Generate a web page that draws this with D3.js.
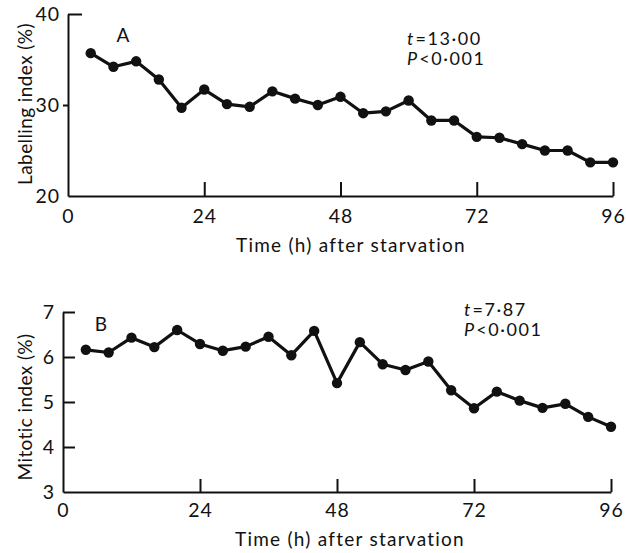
<!DOCTYPE html>
<html>
<head>
<meta charset="utf-8">
<script src="https://cdn.jsdelivr.net/npm/d3@7"></script>
<style>
  html, body { margin: 0; padding: 0; background: #fff; }
  svg { display: block; }
  text { font-family: Lato, "Open Sans", sans-serif; fill: #111; }
</style>
</head>
<body>
<svg id="fig" width="626" height="553"></svg>
<script>
// Sampling times (h after starvation)
const hours = [4, 8, 12, 16, 20, 24, 28, 32, 36, 40, 44, 48,
               52, 56, 60, 64, 68, 72, 76, 80, 84, 88, 92, 96];

// Panel A: labelling index (%)
const labellingIndex = [35.7, 34.2, 34.8, 32.8, 29.7, 31.7, 30.1, 29.8, 31.5, 30.7, 30.0, 30.9,
                        29.1, 29.3, 30.5, 28.3, 28.3, 26.5, 26.4, 25.7, 25.0, 25.0, 23.7, 23.7];

// Panel B: mitotic index (%)
const mitoticIndex = [6.16, 6.10, 6.43, 6.22, 6.60, 6.29, 6.14, 6.23, 6.45, 6.04, 6.58, 5.42,
                      6.33, 5.84, 5.71, 5.90, 5.26, 4.86, 5.23, 5.03, 4.87, 4.96, 4.67, 4.45];

const xTicks = [0, 24, 48, 72, 96];
const yTicksA = [20, 30, 40];
const yTicksB = [3, 4, 5, 6, 7];

const svg = d3.select("#fig");

function panel(opts) {
  const x = d3.scaleLinear().domain([0, 96]).range([opts.x0, opts.x1]);
  const y = d3.scaleLinear().domain(opts.yDomain).range([opts.yBottom, opts.yTop]);
  const g = svg.append("g");

  // x axis: ticks point up into the plot
  const xa = g.append("g")
    .attr("transform", `translate(0,${opts.yBottom})`)
    .call(d3.axisBottom(x).tickValues(xTicks).tickSizeInner(-opts.xTickLen).tickSizeOuter(0).tickFormat(d3.format("d")));
  xa.selectAll("text")
    .attr("y", opts.xLabelBase).attr("dy", null)
    .style("font-size", "19.5px").style("letter-spacing", "1px");
  xa.selectAll(".tick").filter(d => d === 0).select("line").remove();

  // y axis
  const ya = g.append("g")
    .attr("transform", `translate(${opts.x0},0)`)
    .call(d3.axisLeft(y).tickValues(opts.yTicks).tickSizeOuter(0).tickFormat(d3.format("d")));
  ya.selectAll(".tick line").attr("x2", d => opts.yTickEnd(d));
  ya.selectAll("text")
    .attr("x", -8).attr("dy", "0.35em")
    .style("font-size", "19.5px").style("letter-spacing", "1px");

  g.selectAll(".domain, .tick line").attr("stroke", "#111").attr("stroke-width", 2);
  g.selectAll(".tick text").attr("fill", "#111");

  // axis titles
  g.append("text")
    .attr("x", opts.titleX).attr("y", opts.titleY)
    .attr("text-anchor", "middle")
    .style("font-size", "19px").style("letter-spacing", "1.25px")
    .text("Time (h) after starvation");

  g.append("text")
    .attr("transform", `translate(32,${opts.yTitleC}) rotate(-90)`)
    .attr("text-anchor", "middle")
    .style("font-size", "19px").style("letter-spacing", "0.4px")
    .text(opts.yTitle);

  // series
  const pts = hours.map((h, i) => [h, opts.values[i]]);
  g.append("path")
    .datum(pts)
    .attr("fill", "none")
    .attr("stroke", "#111")
    .attr("stroke-width", 3.2)
    .attr("stroke-linejoin", "round")
    .attr("d", d3.line().x(d => x(d[0])).y(d => y(d[1])));

  g.selectAll("circle.pt")
    .data(pts)
    .join("circle")
    .attr("class", "pt")
    .attr("cx", d => x(d[0]))
    .attr("cy", d => y(d[1]))
    .attr("r", 5.2)
    .attr("fill", "#111");

  // panel letter
  g.append("text")
    .attr("x", opts.letterX).attr("y", opts.letterY)
    .attr("text-anchor", "middle")
    .style("font-size", "19px")
    .text(opts.letter);

  // statistics
  const s1 = g.append("text").attr("x", opts.statX).attr("y", opts.statY1)
    .style("font-size", "18px").style("letter-spacing", "1.6px");
  s1.append("tspan").style("font-style", "italic").style("letter-spacing", "0px").text("t");
  s1.append("tspan").attr("dx", 2).text("=" + opts.tValue);
  const s2 = g.append("text").attr("x", opts.statX).attr("y", opts.statY2)
    .style("font-size", "18px").style("letter-spacing", "1.6px");
  s2.append("tspan").style("font-style", "italic").style("letter-spacing", "0px").text("P");
  s2.append("tspan").attr("dx", 2).text("<0·001");
}

panel({
  x0: 68, x1: 613, yBottom: 196, yTop: 14, yDomain: [20, 40],
  yTicks: yTicksA,
  yTickEnd: d => d === 40 ? 14 : (d === 30 ? -5 : 0),
  xTickLen: 14, xLabelBase: 27,
  titleX: 351, titleY: 252,
  yTitle: "Labelling index (%)", yTitleC: 104,
  values: labellingIndex,
  letter: "A", letterX: 123, letterY: 42,
  statX: 407, statY1: 45, statY2: 65, tValue: "13·00"
});

panel({
  x0: 63, x1: 611, yBottom: 492, yTop: 312, yDomain: [3, 7],
  yTicks: yTicksB,
  yTickEnd: d => d === 3 ? 0 : 12,
  xTickLen: 13, xLabelBase: 25,
  titleX: 350, titleY: 546,
  yTitle: "Mitotic index (%)", yTitleC: 407,
  values: mitoticIndex,
  letter: "B", letterX: 101, letterY: 331,
  statX: 464, statY1: 316, statY2: 336, tValue: "7·87"
});
</script>
</body>
</html>
